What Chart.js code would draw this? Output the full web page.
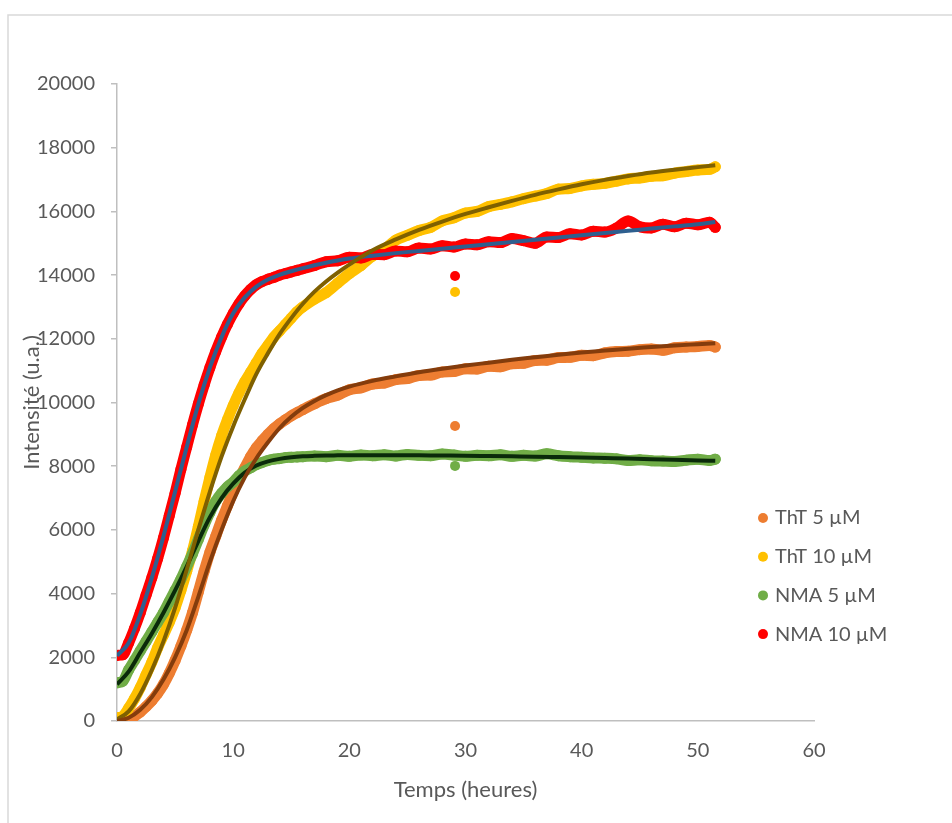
<!DOCTYPE html>
<html>
<head>
<meta charset="utf-8">
<script src="https://cdn.jsdelivr.net/npm/chart.js@4.4.0/dist/chart.umd.min.js"></script>
<style>
  html, body { margin: 0; padding: 0; background: #fff; }
  #chart { display: block; }
</style>
</head>
<body>
<canvas id="chart" width="952" height="823"></canvas>
<script>
// measurement times (hours)
const hours = [0, 0.5, 1, 1.5, 2, 2.5, 3, 3.5, 4, 4.5, 5, 5.5, 6, 6.5, 7, 7.5, 8, 8.5, 9, 9.5,
  10, 10.5, 11, 11.5, 12, 12.5, 13, 13.5, 14, 14.5, 15, 15.5, 16,
  17, 18, 19, 20, 21, 22, 23, 24, 25, 26, 27, 28, 29, 30, 31, 32, 33, 34, 35,
  36, 37, 38, 39, 40, 41, 42, 43, 44, 45, 46, 47, 48, 49, 50, 51, 51.5];

// measured intensities (u.a.)
const tht5 = [0, 20, 60, 150, 280, 450, 640, 870, 1150, 1500, 1900, 2350, 2850, 3400, 4050, 4700, 5300, 5800, 6300, 6750,
  7200, 7600, 7950, 8300, 8580, 8800, 9000, 9180, 9330, 9460, 9580, 9680, 9780,
  9960, 10120, 10230, 10400, 10460, 10580, 10610, 10720, 10750, 10850, 10860, 10960, 10970, 11060, 11050, 11140, 11120, 11220, 11230,
  11320, 11330, 11410, 11420, 11480, 11470, 11560, 11600, 11610, 11660, 11680, 11640, 11720, 11740, 11760, 11790, 11740];
const tht10 = [100, 150, 400, 700, 1050, 1450, 1850, 2300, 2700, 3100, 3550, 4100, 4700, 5350, 6100, 6900, 7650, 8350, 8950, 9450,
  9900, 10300, 10650, 10950, 11250, 11550, 11800, 12050, 12250, 12450, 12650, 12850, 13000,
  13250, 13450, 13750, 14050, 14300, 14600, 14800, 15100, 15250, 15400, 15500, 15700, 15800, 15950, 16000, 16150, 16220, 16300, 16400,
  16480, 16560, 16700, 16720, 16800, 16850, 16880, 16950, 17020, 17050, 17100, 17120, 17200, 17250, 17300, 17320, 17400];
const nma5 = [1200, 1250, 1600, 1900, 2200, 2500, 2800, 3100, 3400, 3750, 4100, 4450, 4850, 5250, 5700, 6150, 6550, 6900, 7150, 7350,
  7500, 7700, 7850, 7950, 8050, 8120, 8180, 8220, 8240, 8270, 8280, 8290, 8300,
  8320, 8300, 8340, 8310, 8350, 8330, 8360, 8320, 8370, 8340, 8330, 8380, 8350, 8310, 8340, 8330, 8360, 8310, 8340,
  8320, 8390, 8330, 8300, 8280, 8260, 8250, 8230, 8180, 8200, 8170, 8160, 8150, 8190, 8220, 8180, 8220];
const nma10 = [2060, 2080, 2450, 2900, 3400, 3950, 4500, 5100, 5750, 6450, 7150, 7900, 8600, 9300, 9950, 10550, 11100, 11600, 12050, 12450,
  12800, 13100, 13350, 13550, 13700, 13800, 13870, 13930, 14000, 14050, 14100, 14150, 14200,
  14300, 14420, 14450, 14560, 14540, 14650, 14640, 14760, 14730, 14850, 14820, 14920, 14880, 14980, 14950, 15050, 15020, 15150, 15080,
  15000, 15200, 15180, 15300, 15260, 15380, 15350, 15480, 15700, 15520, 15480, 15600, 15520, 15630, 15580, 15660, 15500];

// stray reading at ~29 h
const outlierHours = [29.1];
const tht5Out = [9260];
const tht10Out = [13470];
const nma5Out = [8010];
const nma10Out = [13970];

// fitted curves
const fitHours = [0, 1, 2, 3, 4, 5, 6, 7, 8, 9, 10, 11, 12, 13, 14, 15, 16, 17, 18, 19, 20,
  22, 24, 26, 28, 30, 32, 34, 36, 38, 40, 42, 44, 46, 48, 50, 51.5];
const tht5Fit = [0, 100, 350, 750, 1300, 2000, 2850, 3900, 5000, 6000, 6900, 7650, 8250, 8750, 9200, 9550, 9830, 10050, 10230, 10380, 10500,
  10680, 10820, 10950, 11060, 11160, 11250, 11340, 11420, 11500, 11570, 11630, 11690, 11740, 11790, 11830, 11860];
const tht10Fit = [50, 300, 850, 1600, 2500, 3550, 4750, 6000, 7200, 8300, 9250, 10100, 10900, 11550, 12150, 12650, 13100, 13480, 13800, 14080, 14330,
  14780, 15120, 15420, 15680, 15920, 16130, 16330, 16520, 16690, 16850, 16990, 17110, 17220, 17310, 17390, 17450];
const nma5Fit = [1150, 1550, 2150, 2750, 3400, 4100, 4850, 5650, 6400, 7000, 7450, 7800, 8020, 8150, 8230, 8280, 8310, 8325, 8335, 8340, 8345,
  8345, 8345, 8340, 8335, 8330, 8320, 8310, 8300, 8285, 8270, 8255, 8240, 8220, 8200, 8180, 8170];
const nma10Fit = [2050, 2450, 3350, 4500, 5800, 7200, 8600, 9950, 11100, 12050, 12800, 13300, 13640, 13860, 14010, 14120, 14220, 14310, 14390, 14460, 14520,
  14610, 14690, 14760, 14830, 14900, 14970, 15040, 15110, 15180, 15250, 15320, 15390, 15460, 15530, 15600, 15670];

const seriesNames = ["ThT 5 µM", "ThT 10 µM", "NMA 5 µM", "NMA 10 µM"];
const seriesColors = ["#ed7d31", "#ffc000", "#70ad47", "#ff0000"];
const fitColors = ["#843c0c", "#7f6000", "#0a2a0a", "#2e5f8f"];

const FONT = "Lato";
const TEXT = "#595959";

function band(label, xs, ys, color, order) {
  return {
    label: label,
    data: xs.map((h, i) => ({ x: h, y: ys[i] })),
    showLine: true,
    borderColor: color,
    backgroundColor: color,
    borderWidth: 11,
    borderJoinStyle: "round",
    borderCapStyle: "round",
    cubicInterpolationMode: "monotone",
    pointRadius: 5.5,
    pointBorderWidth: 0,
    pointBackgroundColor: color,
    order: order,
  };
}
function dots(label, xs, ys, color, order) {
  return {
    label: label,
    data: xs.map((h, i) => ({ x: h, y: ys[i] })),
    showLine: false,
    pointRadius: 5,
    pointBorderWidth: 0,
    pointBackgroundColor: color,
    order: order,
  };
}
function fitLine(label, ys, color) {
  return {
    label: label,
    data: fitHours.map((h, i) => ({ x: h, y: ys[i] })),
    showLine: true,
    borderColor: color,
    borderWidth: 4,
    cubicInterpolationMode: "monotone",
    pointRadius: 0,
    order: 0,
  };
}

//light frame round the chart
const frame = {
  id: "frame",
  beforeDraw(chart) {
    const ctx = chart.ctx;
    ctx.save();
    ctx.strokeStyle = "#d9d9d9";
    ctx.lineWidth = 1.5;
    ctx.beginPath();
    ctx.moveTo(8, 823);
    ctx.lineTo(8, 15);
    ctx.lineTo(952, 15);
    ctx.stroke();
    ctx.restore();
  },
};

//legend sits inside the plot, on the right
const legendBox = {
  id: "legendBox",
  afterDatasetsDraw(chart) {
    const ctx = chart.ctx;
    ctx.save();
    ctx.font = "20px " + FONT;
    ctx.textBaseline = "middle";
    seriesNames.forEach((name, i) => {
      const y = 518 + i * 38.7;
      ctx.fillStyle = seriesColors[i];
      ctx.beginPath();
      ctx.arc(763, y, 5, 0, Math.PI * 2);
      ctx.fill();
      ctx.fillStyle = TEXT;
      ctx.fillText(name, 775, y);
    });
    ctx.restore();
  },
};

const all = [
  band(seriesNames[0], hours, tht5, seriesColors[0], 8),
  band(seriesNames[1], hours, tht10, seriesColors[1], 7),
  band(seriesNames[2], hours, nma5, seriesColors[2], 6),
  band(seriesNames[3], hours, nma10, seriesColors[3], 5),
  dots(seriesNames[0], outlierHours, tht5Out, seriesColors[0], 4),
  dots(seriesNames[1], outlierHours, tht10Out, seriesColors[1], 4),
  dots(seriesNames[2], outlierHours, nma5Out, seriesColors[2], 4),
  dots(seriesNames[3], outlierHours, nma10Out, seriesColors[3], 4),
  fitLine("fit ThT 5", tht5Fit, fitColors[0]),
  fitLine("fit ThT 10", tht10Fit, fitColors[1]),
  fitLine("fit NMA 5", nma5Fit, fitColors[2]),
  fitLine("fit NMA 10", nma10Fit, fitColors[3]),
];

new Chart(document.getElementById("chart"), {
  type: "scatter",
  data: { datasets: all },
  plugins: [frame, legendBox],
  options: {
    responsive: false,
    animation: false,
    layout: { padding: { left: 19, top: 84, right: 138, bottom: 20 } },
    plugins: {
      legend: { display: false },
      tooltip: { enabled: false },
    },
    scales: {
      x: {
        type: "linear",
        min: 0,
        max: 60,
        afterFit(scale) { scale.height = 82; },
        ticks: {
          stepSize: 10,
          padding: 18,
          color: TEXT,
          font: { family: FONT, size: 20 },
          callback: (v) => String(v),
        },
        grid: { display: false, drawTicks: false },
        border: { display: true, color: "#bfbfbf", width: 1.5 },
        title: {
          display: true,
          text: "Temps (heures)",
          color: TEXT,
          font: { family: FONT, size: 22 },
          padding: 0,
        },
      },
      y: {
        type: "linear",
        min: 0,
        max: 20000,
        afterFit(scale) { scale.width = 98; },
        ticks: {
          stepSize: 2000,
          padding: 16,
          color: TEXT,
          font: { family: FONT, size: 20 },
          callback: (v) => String(v),
        },
        grid: { display: true, drawOnChartArea: false, drawTicks: true, tickLength: 6, color: "#bfbfbf", lineWidth: 1.5 },
        border: { display: true, color: "#bfbfbf", width: 1.5 },
        title: {
          display: true,
          text: "Intensité (u.a.)",
          color: TEXT,
          font: { family: FONT, size: 22 },
          padding: 0,
        },
      },
    },
  },
});
</script>
</body>
</html>
